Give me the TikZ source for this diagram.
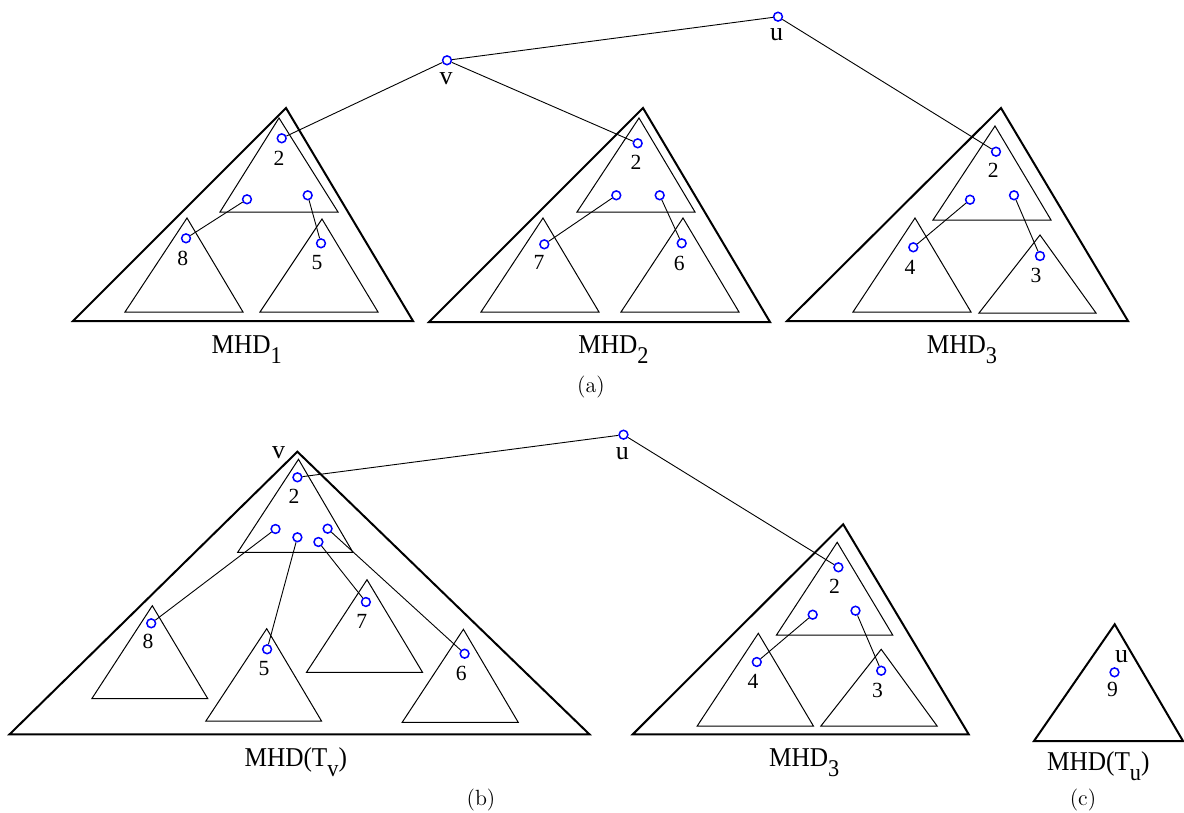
\documentclass[tikz,border=0pt]{standalone}
\usepackage{fontspec}
\newfontfamily\tf{Liberation Serif}
\newfontfamily\tfm[FakeStretch=0.93]{Liberation Serif}
\newcommand\sbs[1]{\raisebox{-5pt}{\fontsize{12}{13}\selectfont #1}}
\begin{document}
\begin{tikzpicture}[x=0.5pt,y=-0.5pt,
  vtx/.style={circle, draw=blue, line width=0.75pt, minimum size=4.4pt, inner sep=0pt},
  outer/.style={line width=1pt, line join=miter},
  inner/.style={line width=0.5pt},
  edge/.style={line width=0.45pt},
  num/.style={font=\tf\fontsize{10.8}{12}\selectfont, inner sep=0pt},
  uv/.style={font=\tf\fontsize{13}{14}\selectfont, inner sep=0pt},
  lab/.style={font=\tfm\fontsize{13.6}{15}\selectfont, inner sep=0pt, anchor=base},
  captext/.style={font=\fontsize{11}{13}\selectfont, inner sep=0pt}]
\useasboundingbox (0,0) rectangle (1184,813);

% ---------------- panel (a) ----------------
% MHD_1
\draw[outer] (286,108) -- (73,321) -- (413,321) -- cycle;
\draw[inner] (279,118) -- (220,212) -- (338,212) -- cycle;
\draw[inner] (187,218) -- (125,312) -- (243,312) -- cycle;
\draw[inner] (322,219) -- (260,312) -- (378,312) -- cycle;
\node[vtx] (a1r) at (281.7,138.3) {};
\node[vtx] (a1l) at (247,199.3) {};
\node[vtx] (a1m) at (307.7,195.3) {};
\node[vtx] (a1e) at (186,238.3) {};
\node[vtx] (a1f) at (321,243.3) {};
\node[num] (t1r) at (279,158) {2};
\node[num] (t1e) at (182.7,258) {8};
\node[num] (t1f) at (317,262.7) {5};
\node[lab] (m1) at (246.7,353) {MHD\sbs{1}};

% MHD_2
\draw[outer] (643,108) -- (429,322) -- (770,322) -- cycle;
\draw[inner] (639,118) -- (577,212) -- (695,212) -- cycle;
\draw[inner] (543,218) -- (481,312) -- (599,312) -- cycle;
\draw[inner] (683,218) -- (621,312) -- (739,312) -- cycle;
\node[vtx] (a2r) at (637.7,143.3) {};
\node[vtx] (a2l) at (616.3,195.3) {};
\node[vtx] (a2m) at (659.7,195.3) {};
\node[vtx] (a2e) at (544.3,244.3) {};
\node[vtx] (a2f) at (681.7,243.3) {};
\node[num] (t2r) at (636,162.3) {2};
\node[num] (t2e) at (539,262.7) {7};
\node[num] (t2f) at (679.3,263.3) {6};
\node[lab] (m2) at (613.5,353) {MHD\sbs{2}};

% MHD_3
\draw[outer] (1001,108) -- (787,321) -- (1128,321) -- cycle;
\draw[inner] (995,126) -- (933,220) -- (1051,220) -- cycle;
\draw[inner] (915,218) -- (853,312) -- (971,312) -- cycle;
\draw[inner] (1040,235) -- (979,313) -- (1096,313) -- cycle;
\node[vtx] (a3r) at (996,151.7) {};
\node[vtx] (a3l) at (970,199.7) {};
\node[vtx] (a3m) at (1014,195.3) {};
\node[vtx] (a3e) at (913.3,247.3) {};
\node[vtx] (a3f) at (1040,256) {};
\node[num] (t3r) at (993.3,170.7) {2};
\node[num] (t3e) at (910,267.3) {4};
\node[num] (t3f) at (1036,275) {3};
\node[lab] (m3) at (962,353) {MHD\sbs{3}};

% v and u
\node[vtx] (av) at (447,60.3) {};
\node[vtx] (au) at (778,16.7) {};
\node[uv] (tv) at (446,78.3) {v};
\node[uv] (tu) at (776.7,35) {u};

\draw[edge] (av) -- (a1r);
\draw[edge] (av) -- (a2r);
\draw[edge] (av) -- (au);
\draw[edge] (au) -- (a3r);
\draw[edge] (a1l) -- (a1e);
\draw[edge] (a1m) -- (a1f);
\draw[edge] (a2l) -- (a2e);
\draw[edge] (a2m) -- (a2f);
\draw[edge] (a3l) -- (a3e);
\draw[edge] (a3m) -- (a3f);

\node[captext] (capa) at (591,387) {(a)};

% ---------------- panel (b) ----------------
\draw[outer] (297.4,451.7) -- (9.6,734.3) -- (589.4,734.3) -- cycle;
\draw[inner] (298.5,459.3) -- (237.7,552.3) -- (352.9,552.3) -- cycle;
\draw[inner] (152.3,605.7) -- (91.8,698.7) -- (207.8,698.7) -- cycle;
\draw[inner] (266.7,628.7) -- (205.9,721) -- (321.5,721) -- cycle;
\draw[inner] (367,579.7) -- (306.5,672.3) -- (422.5,672.3) -- cycle;
\draw[inner] (463.4,629.3) -- (402.2,722.3) -- (518.2,722.3) -- cycle;
\node[vtx] (br) at (297.4,477.3) {};
\node[vtx] (bA) at (275.5,529) {};
\node[vtx] (bB) at (297.4,537.3) {};
\node[vtx] (bC) at (318.4,542) {};
\node[vtx] (bD) at (327.6,528.7) {};
\node[vtx] (b8) at (151.2,623.3) {};
\node[vtx] (b5) at (267.1,649.3) {};
\node[vtx] (b7) at (365.9,602) {};
\node[vtx] (b6) at (464.6,653.7) {};
\node[num] (sbr) at (293.9,496.7) {2};
\node[num] (sb8) at (148.1,641.7) {8};
\node[num] (sb5) at (264.1,668.3) {5};
\node[num] (sb7) at (361.7,621) {7};
\node[num] (sb6) at (461.2,673.3) {6};
\node[uv] (sbv) at (278.5,452.5) {v};
\node[lab] (mtv) at (295.8,766) {MHD(T\sbs{v})};

\node[vtx] (bu) at (623.5,434.7) {};
\node[uv] (sbu) at (622.3,453.3) {u};

\draw[outer] (843.2,524.3) -- (632.8,734.3) -- (968.7,734.3) -- cycle;
\draw[inner] (837.2,542.3) -- (776.5,635) -- (892.7,635) -- cycle;
\draw[inner] (758.3,633.3) -- (697.2,726) -- (813.4,726) -- cycle;
\draw[inner] (881.2,649.3) -- (820.9,726) -- (937.1,726) -- cycle;
\node[vtx] (cr) at (838.4,567.3) {};
\node[vtx] (cl) at (812.7,614.7) {};
\node[vtx] (cm) at (855.5,610.7) {};
\node[vtx] (ce) at (756.8,662) {};
\node[vtx] (cf) at (881.2,670.7) {};
\node[num] (scr) at (834.6,586.7) {2};
\node[num] (sce) at (753.1,681.7) {4};
\node[num] (scf) at (877.5,690) {3};
\node[lab] (mb3) at (804.3,766) {MHD\sbs{3}};

\draw[edge] (br) -- (bu);
\draw[edge] (bu) -- (cr);
\draw[edge] (bA) -- (b8);
\draw[edge] (bB) -- (b5);
\draw[edge] (bC) -- (b7);
\draw[edge] (bD) -- (b6);
\draw[edge] (cl) -- (ce);
\draw[edge] (cm) -- (cf);

\node[captext] (capb) at (481,800) {(b)};

% ---------------- panel (c) ----------------
\draw[outer] (1114.7,624.3) -- (1034,741) -- (1183,741) -- cycle;
\node[uv] (scu) at (1121.5,656.7) {u};
\node[vtx] (c9) at (1114.5,672.3) {};
\node[num] (sc9) at (1112.5,689) {9};
\node[lab] (mtu) at (1098.3,770) {MHD(T\sbs{u})};
\node[captext] (capc) at (1083,800) {(c)};
\end{tikzpicture}
\end{document}
